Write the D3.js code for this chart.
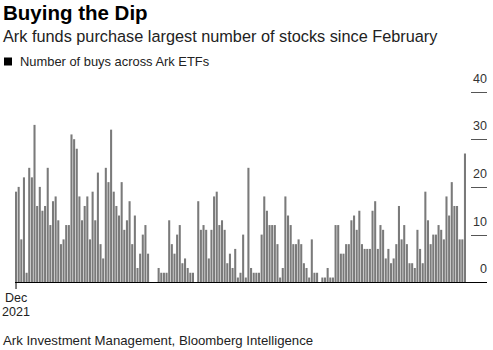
<!DOCTYPE html>
<html>
<head>
<meta charset="utf-8">
<script src="https://cdn.jsdelivr.net/npm/d3@7"></script>
<style>
  body { margin: 0; background: #fff; }
  svg { display: block; font-family: "Liberation Sans", Arial, Helvetica, sans-serif; }
</style>
</head>
<body>
<div class="chart"></div>
<script>
// number of buys across Ark ETFs, one value per trading day
const buys = [
  19, 20, 9, 22, 2, 24, 22, 33, 16, 20, 15, 16, 24, 12, 17, 18, 13, 8, 9, 12,
  12, 31, 30, 28, 18, 13, 16, 18, 9, 19, 13, 23, 8, 5, 24, 21, 32, 19, 16, 14,
  21, 11, 13, 17, 8, 14, 3, 6, 10, 12, 6, 0, 0, 0, 3, 2, 2, 2, 13, 8,
  6, 10, 12, 4, 5, 3, 2, 2, 0, 17, 11, 12, 11, 5, 11, 18, 19, 12, 13, 11,
  4, 6, 3, 7, 1, 2, 10, 1, 24, 3, 2, 2, 2, 10, 18, 15, 12, 12, 12, 8,
  1, 3, 18, 14, 12, 8, 8, 9, 8, 4, 3, 1, 9, 2, 2, 0, 1, 1, 3, 1,
  1, 12, 12, 6, 6, 8, 8, 13, 14, 11, 15, 8, 7, 7, 7, 15, 17, 7, 12, 11,
  5, 7, 4, 5, 8, 16, 9, 12, 8, 4, 4, 3, 11, 7, 4, 19, 13, 8, 10, 10,
  12, 11, 9, 18, 14, 21, 16, 16, 9, 9, 27
];
const days = d3.range(buys.length);
const yTicks = [0, 10, 20, 30, 40];
const xTickLabel = ["Dec", "2021"];

const W = 493, H = 350;

const svg = d3.select(".chart")
  .append("svg")
    .attr("width", W)
    .attr("height", H);

// titles
svg.append("text")
  .attr("x", 3).attr("y", 19.5)
  .attr("font-size", "20.5px").attr("font-weight", "bold")
  .attr("fill", "#000")
  .text("Buying the Dip");

svg.append("text")
  .attr("x", 3).attr("y", 42)
  .attr("font-size", "16.3px")
  .attr("fill", "#222")
  .text("Ark funds purchase largest number of stocks since February");

// legend
svg.append("rect")
  .attr("x", 4).attr("y", 57.5)
  .attr("width", 8).attr("height", 8)
  .attr("fill", "#000");
svg.append("text")
  .attr("x", 20).attr("y", 65.5)
  .attr("font-size", "12.9px")
  .attr("fill", "#222")
  .text("Number of buys across Ark ETFs");

// scales
const x = d3.scaleBand()
  .domain(days)
  .range([15, 466])
  .paddingInner(0.22)
  .paddingOuter(0);

const y = d3.scaleLinear()
  .domain([0, 40])
  .range([282.3, 91.5]);

// right-side value labels with short rules
const yAxis = svg.append("g").attr("class", "yaxis");
yAxis.selectAll("line")
  .data(yTicks.filter(d => d > 0))
  .join("line")
    .attr("x1", 471).attr("x2", 487)
    .attr("y1", d => Math.round(y(d)) + 0.5)
    .attr("y2", d => Math.round(y(d)) + 0.5)
    .attr("stroke", "#555")
    .attr("stroke-width", 1);
yAxis.selectAll("text")
  .data(yTicks)
  .join("text")
    .attr("x", 487)
    .attr("y", d => y(d) - 9)
    .attr("text-anchor", "end")
    .attr("font-size", "12.5px")
    .attr("fill", "#333")
    .text(d => d);

// bars
svg.selectAll(".bar")
  .data(buys)
  .join("rect")
    .attr("class", "bar")
    .attr("x", (d, i) => x(days[i]))
    .attr("y", d => y(d))
    .attr("width", x.bandwidth())
    .attr("height", d => y(0) - y(d))
    .attr("fill", "#7a7a7a");

// baseline
svg.append("line")
  .attr("x1", 15).attr("x2", 487)
  .attr("y1", 282.5).attr("y2", 282.5)
  .attr("stroke", "#000")
  .attr("stroke-width", 1);

// first tick + label
const tx = x(days[0]) + x.bandwidth() / 2;
svg.append("line")
  .attr("x1", tx).attr("x2", tx)
  .attr("y1", 282.5).attr("y2", 289)
  .attr("stroke", "#000");
svg.append("g")
  .selectAll("text")
  .data(xTickLabel)
  .join("text")
    .attr("x", tx)
    .attr("y", (d, i) => 302 + i * 14)
    .attr("text-anchor", "middle")
    .attr("font-size", "12.5px")
    .attr("fill", "#222")
    .text(d => d);

// source
svg.append("text")
  .attr("x", 3).attr("y", 344.5)
  .attr("font-size", "13.2px")
  .attr("fill", "#222")
  .text("Ark Investment Management, Bloomberg Intelligence");
</script>
</body>
</html>
